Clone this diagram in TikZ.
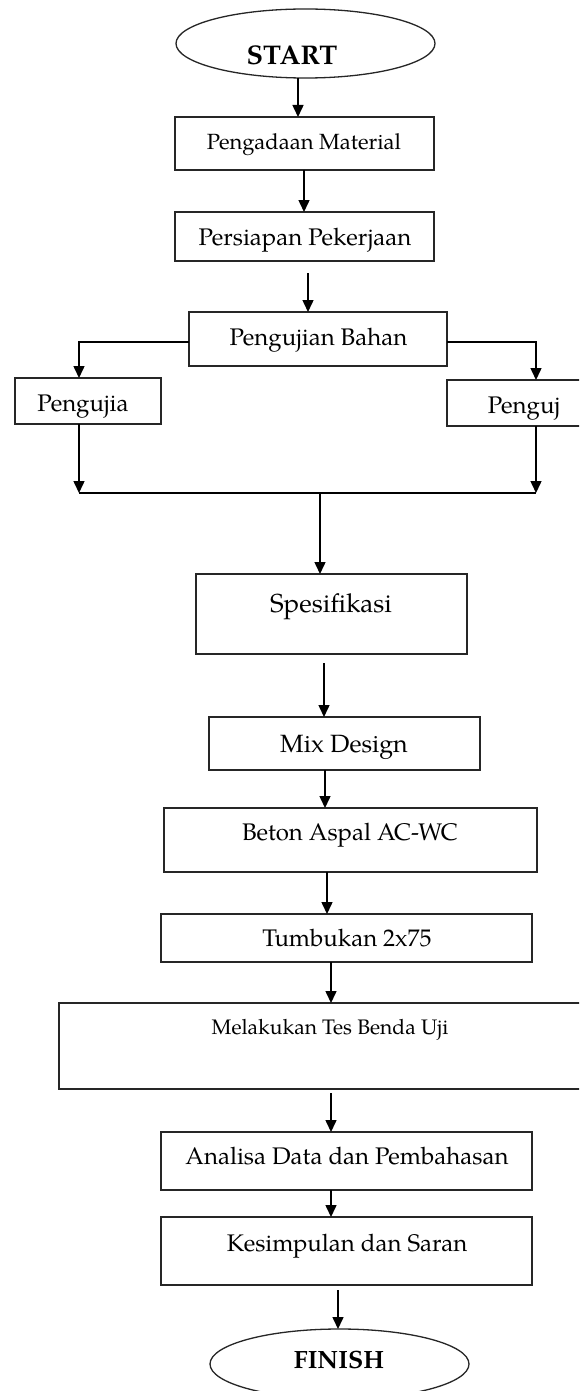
\documentclass[tikz,border=0pt]{standalone}
\usepackage{fontspec}
\setmainfont{texgyrepagella}[Extension=.otf, UprightFont=*-regular, BoldFont=*-bold, ItalicFont=*-italic, BoldItalicFont=*-bolditalic]
\usetikzlibrary{arrows.meta,shapes.geometric}
\begin{document}
\begin{tikzpicture}[x=1pt,y=-1pt,
  box/.style={draw=black!85, line width=1.5pt, rectangle, inner sep=0pt, outer sep=0pt},
  oval/.style={draw=black!85, line width=1.3pt, ellipse, inner sep=0pt, outer sep=0pt},
  lbl/.style={inner sep=0pt, anchor=base, font=\fontsize{#1}{#1}\selectfont},
  lbl/.default=24,
  blbl/.style={inner sep=0pt, anchor=base, font=\bfseries\fontsize{#1}{#1}\selectfont},
  arr/.style={line width=1.5pt, draw=black, -{Triangle[length=12pt,width=11pt]}},
  ln/.style={line width=1.5pt, draw=black}]
\useasboundingbox (0,0) rectangle (579,1391);
\clip (0,0) rectangle (579,1391);
\fill[white] (0,0) rectangle (579,1391);

% nodes
\node[oval, minimum width=259pt, minimum height=69pt] (start) at (305.5,43.5) {};
\node[blbl=27] (start-t) at (292,65) {START};

\node[box, minimum width=259pt, minimum height=53pt] (pengadaan) at (304.5,143.5) {};
\node[lbl=22] (pengadaan-t) at (304,150) {Pengadaan Material};

\node[box, minimum width=259pt, minimum height=49pt] (persiapan) at (304.5,236.5) {};
\node[lbl] (persiapan-t) at (305,245) {Persiapan Pekerjaan};

\node[box, minimum width=258pt, minimum height=54pt] (pengujian) at (318,339) {};
\node[lbl] (pengujian-t) at (318.5,345) {Pengujian Bahan};

\node[box, minimum width=146pt, minimum height=46pt] (pengujia) at (88,401) {};
\node[lbl] (pengujia-t) at (83,411) {Pengujia};

\node[box, minimum width=165pt, minimum height=46pt] (penguj) at (529.5,403) {};
\node[lbl] (penguj-t) at (524,413) {Penguj};

\node[box, minimum width=271pt, minimum height=80pt] (spesifikasi) at (331.5,614) {};
\node[lbl=26] (spesifikasi-t) at (331,612) {Spesifikasi};

\node[box, minimum width=271pt, minimum height=53pt] (mixdesign) at (344.5,743.5) {};
\node[lbl=25] (mixdesign-t) at (344,752) {Mix Design};

\node[box, minimum width=373pt, minimum height=64pt] (beton) at (350.5,840) {};
\node[lbl] (beton-t) at (350,840) {Beton Aspal AC-WC};

\node[box, minimum width=371pt, minimum height=48pt] (tumbukan) at (346.5,938) {};
\node[lbl] (tumbukan-t) at (347,946) {Tumbukan 2x75};

\node[box, minimum width=561pt, minimum height=86pt] (melakukan) at (339.5,1046) {};
\node[lbl=21] (melakukan-t) at (330,1034) {Melakukan Tes Benda Uji};

\node[box, minimum width=371pt, minimum height=58pt] (analisa) at (346.5,1161) {};
\node[lbl] (analisa-t) at (347,1164) {Analisa Data dan Pembahasan};

\node[box, minimum width=371pt, minimum height=68pt] (kesimpulan) at (346.5,1251) {};
\node[lbl] (kesimpulan-t) at (347,1251) {Kesimpulan dan Saran};

\node[oval, minimum width=259pt, minimum height=70pt] (finish) at (339.5,1364) {};
\node[blbl=25] (finish-t) at (339,1368) {FINISH};

% connector guide coordinates
\coordinate (x1) at (298,0);
\coordinate (x2) at (304,0);
\coordinate (c3s) at (308,273);
\coordinate (xl) at (79,342);
\coordinate (xr) at (536,342);
\coordinate (jl) at (79,493);
\coordinate (jr) at (536,493);
\coordinate (jm) at (320,493);
\coordinate (c10s) at (324,663);
\coordinate (x11) at (325,0);
\coordinate (x12) at (327,0);
\coordinate (x13) at (331,0);
\coordinate (c14s) at (331,1093);
\coordinate (c16s) at (338,1290);

% connectors
\draw[arr] (start.south -| x1) -- (pengadaan.north -| x1);
\draw[arr] (pengadaan.south -| x2) -- (persiapan.north -| x2);
\draw[arr] (c3s) -- (pengujian.north -| c3s);
\draw[arr] (pengujian.west |- xl) -| (pengujia.north -| xl);
\draw[arr] (pengujian.east |- xr) -| (penguj.north -| xr);
\draw[arr] (pengujia.south -| jl) -- (jl);
\draw[arr] (penguj.south -| jr) -- (jr);
\draw[ln] (jl) -- (jr);
\draw[arr] (jm) -- (spesifikasi.north -| jm);
\draw[arr] (c10s) -- (mixdesign.north -| c10s);
\draw[arr] (mixdesign.south -| x11) -- (beton.north -| x11);
\draw[arr] (beton.south -| x12) -- (tumbukan.north -| x12);
\draw[arr] (tumbukan.south -| x13) -- (melakukan.north -| x13);
\draw[arr] (c14s) -- (analisa.north -| c14s);
\draw[arr] (analisa.south -| x13) -- (kesimpulan.north -| x13);
\draw[arr] (c16s) -- (finish.north -| c16s);
\end{tikzpicture}
\end{document}
